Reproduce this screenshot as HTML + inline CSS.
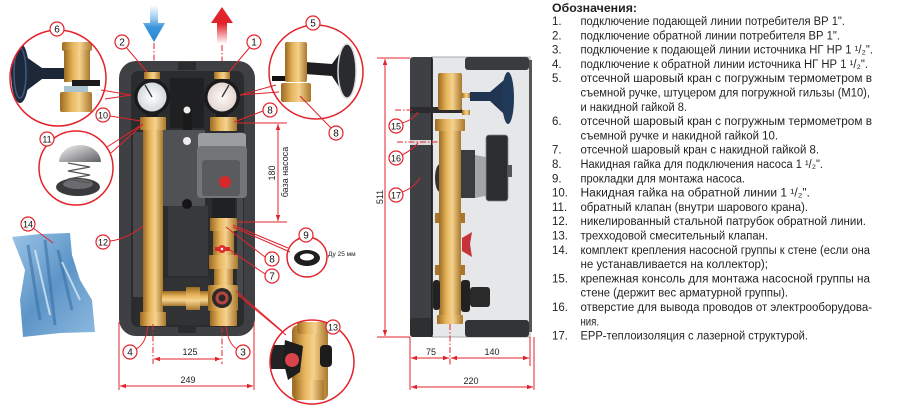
<!DOCTYPE html>
<html><head><meta charset="utf-8"><style>
html,body{margin:0;padding:0;background:#fff;}
svg{display:block;}
text{font-family:"Liberation Sans","DejaVu Sans",sans-serif;}
</style></head><body>
<svg width="898" height="411" viewBox="0 0 898 411" xmlns="http://www.w3.org/2000/svg">
<defs>
 <linearGradient id="brass" x1="0" x2="1" y1="0" y2="0">
  <stop offset="0" stop-color="#9c6a22"/><stop offset="0.35" stop-color="#e6b55c"/><stop offset="0.6" stop-color="#f5d28e"/><stop offset="1" stop-color="#a9772c"/>
 </linearGradient>
 <linearGradient id="brassH" x1="0" x2="0" y1="0" y2="1">
  <stop offset="0" stop-color="#9c6a22"/><stop offset="0.35" stop-color="#e6b55c"/><stop offset="0.6" stop-color="#f5d28e"/><stop offset="1" stop-color="#a9772c"/>
 </linearGradient>
 <linearGradient id="blueA" gradientUnits="userSpaceOnUse" x1="0" y1="5" x2="0" y2="42">
  <stop offset="0" stop-color="#ffffff"/><stop offset="0.35" stop-color="#9fcdf0"/><stop offset="0.6" stop-color="#3a95dc"/><stop offset="1" stop-color="#2a86d2"/>
 </linearGradient>
 <linearGradient id="redA" gradientUnits="userSpaceOnUse" x1="0" y1="7" x2="0" y2="44">
  <stop offset="0" stop-color="#e3232b"/><stop offset="0.45" stop-color="#e3232b"/><stop offset="1" stop-color="#ffffff"/>
 </linearGradient>
 <radialGradient id="face"><stop offset="0" stop-color="#ffffff"/><stop offset="1" stop-color="#d4d9dd"/></radialGradient>
 <radialGradient id="face2"><stop offset="0" stop-color="#fffaf7"/><stop offset="1" stop-color="#e3d6d2"/></radialGradient>
 <linearGradient id="dome" x1="0" x2="1" y1="0" y2="1"><stop offset="0" stop-color="#f4f4f4"/><stop offset="1" stop-color="#5e5f62"/></linearGradient>
 <linearGradient id="bag" x1="0" x2="1" y1="0" y2="1"><stop offset="0" stop-color="#9cc4e6"/><stop offset="0.5" stop-color="#5d95c8"/><stop offset="1" stop-color="#8db9de"/></linearGradient>
 <marker id="ar" viewBox="0 0 8 6" refX="8" refY="3" markerWidth="6" markerHeight="4.5" orient="auto-start-reverse" markerUnits="userSpaceOnUse">
  <path d="M0,0 L8,3 L0,6 Z" fill="#e3232b"/>
 </marker>
 <clipPath id="c6"><circle cx="58" cy="78" r="48"/></clipPath>
 <clipPath id="c5"><circle cx="316" cy="72" r="47"/></clipPath>
 <clipPath id="c13"><circle cx="312" cy="362" r="42"/></clipPath>
</defs>

<!-- arrows -->
<path d="M150,5 L158,5 L158,23 L165,23 L154,42 L143,23 L150,23 Z" fill="url(#blueA)"/>
<path d="M222,7 L233,23 L227,23 L227,44 L217,44 L217,23 L211,23 Z" fill="url(#redA)"/>
<g stroke="#e3232b" stroke-width="1" stroke-dasharray="6 2 1.5 2" fill="none">
 <line x1="154" y1="43" x2="154" y2="74"/>
 <line x1="222" y1="45" x2="222" y2="74"/>
</g>

<!-- LEFT UNIT -->
<rect x="119" y="61" width="136" height="275" rx="17" fill="#3f4043"/>
<rect x="131" y="71" width="113" height="256" rx="7" fill="#2b2c2e"/>
<rect x="178" y="62" width="18" height="8" fill="#2b2c2e"/>
<rect x="178" y="327" width="18" height="6" fill="#2b2c2e"/>
<rect x="133" y="132" width="10" height="165" fill="#47484b"/>
<rect x="237" y="132" width="6" height="165" fill="#47484b"/>
<rect x="163" y="130" width="42" height="76" fill="#505154"/>
<rect x="168" y="206" width="40" height="70" fill="#38393c"/>
<rect x="163" y="278" width="47" height="47" fill="#313234"/>
<rect x="170" y="78" width="34" height="50" fill="#1f2022"/>
<rect x="183" y="108" width="9" height="22" fill="#1a1a1b"/>
<circle cx="187" cy="110" r="3.5" fill="#eee"/>
<circle cx="187" cy="141" r="4" fill="#eee"/>
<circle cx="187" cy="204" r="5" fill="#151516"/>
<!-- gauges -->
<rect x="144" y="72" width="16" height="7" fill="url(#brass)"/>
<rect x="214" y="72" width="16" height="7" fill="url(#brass)"/>
<rect x="146" y="110" width="12" height="9" fill="#1e1e1f"/>
<rect x="216" y="110" width="12" height="9" fill="#1e1e1f"/>
<circle cx="152" cy="97" r="18" fill="#1b1b1d"/>
<circle cx="152" cy="97" r="14.5" fill="url(#face)"/>
<line x1="152" y1="97" x2="145" y2="85" stroke="#333" stroke-width="1.3"/>
<circle cx="222" cy="97" r="18" fill="#1b1b1d"/>
<circle cx="222" cy="97" r="14.5" fill="url(#face2)"/>
<line x1="222" y1="97" x2="229" y2="85" stroke="#333" stroke-width="1.3"/>
<!-- left pipe -->
<rect x="140" y="117" width="26" height="13" rx="1" fill="url(#brass)"/>
<rect x="143" y="130" width="20" height="183" fill="url(#brass)"/>
<rect x="140" y="312" width="26" height="14" rx="1" fill="url(#brass)"/>
<!-- right column -->
<rect x="210" y="117" width="27" height="14" rx="1" fill="url(#brass)"/>
<rect x="198" y="133" width="48" height="17" rx="3" fill="#9b9d9f"/>
<rect x="197" y="146" width="50" height="52" rx="4" fill="#737577"/>
<rect x="202" y="160" width="38" height="36" rx="3" fill="#5a5b5e"/>
<circle cx="225" cy="182" r="6" fill="#d42a2a"/>
<rect x="212" y="198" width="23" height="20" fill="#202122"/>
<rect x="210" y="218" width="27" height="13" rx="1" fill="url(#brass)"/>
<rect x="213" y="231" width="21" height="26" fill="url(#brass)"/>
<rect x="215" y="247" width="15" height="4" fill="#d42a2a"/>
<circle cx="222" cy="249" r="4" fill="#e03030"/>
<circle cx="222" cy="249" r="1.2" fill="#fff"/>
<rect x="209" y="255" width="29" height="14" rx="1" fill="url(#brass)"/>
<rect x="214" y="269" width="19" height="18" fill="url(#brass)"/>
<rect x="162" y="291" width="46" height="15" fill="url(#brassH)"/>
<rect x="186" y="287" width="14" height="23" rx="1" fill="url(#brassH)"/>
<rect x="208" y="285" width="30" height="26" rx="2" fill="url(#brass)"/>
<circle cx="222" cy="298" r="10" fill="#2a2a2a"/>
<circle cx="222" cy="298" r="6.5" fill="#b8463f"/>
<circle cx="222" cy="298" r="3.5" fill="#2a2a2a"/>
<rect x="210" y="311" width="27" height="15" rx="1" fill="url(#brass)"/>

<!-- dimension 180 -->
<g stroke="#e3232b" stroke-width="1" fill="none">
 <line x1="237" y1="123" x2="287" y2="123"/>
 <line x1="237" y1="222" x2="287" y2="222"/>
 <line x1="278" y1="124" x2="278" y2="221" marker-start="url(#ar)" marker-end="url(#ar)"/>
</g>
<text transform="translate(275,173) rotate(-90)" text-anchor="middle" font-size="9" fill="#222">180</text>
<text transform="translate(288,172) rotate(-90)" text-anchor="middle" font-size="9" fill="#222">база насоса</text>

<!-- bottom dims left -->
<g stroke="#e3232b" stroke-width="1" fill="none">
 <line x1="119" y1="322" x2="119" y2="390"/>
 <line x1="254" y1="322" x2="254" y2="390"/>
 <line x1="153" y1="324" x2="153" y2="364" stroke-dasharray="6 2 1.5 2"/>
 <line x1="222" y1="327" x2="222" y2="364" stroke-dasharray="6 2 1.5 2"/>
 <line x1="154" y1="359" x2="221" y2="359" marker-start="url(#ar)" marker-end="url(#ar)"/>
 <line x1="120" y1="386" x2="253" y2="386" marker-start="url(#ar)" marker-end="url(#ar)"/>
</g>
<text x="190" y="355" text-anchor="middle" font-size="9" fill="#222">125</text>
<text x="188" y="383" text-anchor="middle" font-size="9" fill="#222">249</text>

<!-- bag 14 -->
<path d="M12,237 L40,234 L70,233 L72,255 L80,280 L92,300 L95,332 L60,333 L23,337 L20,300 L25,270 Z" fill="url(#bag)"/>
<path d="M28,245 L40,320 M45,240 L55,325 M58,250 L72,310" stroke="#3b6fa3" stroke-width="3" fill="none" opacity="0.6"/>
<path d="M35,250 L50,315 M62,262 L80,300" stroke="#e8f2fa" stroke-width="2" fill="none" opacity="0.7"/>

<!-- circle 6 -->
<circle cx="58" cy="78" r="48" fill="#fff"/>
<g clip-path="url(#c6)">
 <path d="M22,54 L42,68 L66,68 L66,79 L42,79 L22,94 Z" fill="#1c2838"/>
 <ellipse cx="20" cy="73" rx="9" ry="30" fill="#1d2a3e"/>
 <ellipse cx="20" cy="73" rx="6" ry="25" fill="none" stroke="#3f5a7d" stroke-width="1.5"/>
 <rect x="62" y="42" width="30" height="9" rx="2" fill="url(#brass)"/>
 <rect x="64" y="50" width="26" height="32" fill="url(#brass)"/>
 <rect x="72" y="80" width="28" height="6" fill="#1a1a1a"/>
 <rect x="64" y="86" width="24" height="6" fill="#a9c3d0"/>
 <rect x="60" y="92" width="32" height="20" rx="2" fill="url(#brass)"/>
</g>
<circle cx="58" cy="78" r="48" fill="none" stroke="#e3232b" stroke-width="1.5"/>
<g stroke="#e3232b" stroke-width="1" fill="none">
 <line x1="101" y1="90" x2="131" y2="95"/>
 <line x1="105" y1="99" x2="131" y2="95"/>
</g>

<!-- circle 5 -->
<circle cx="316" cy="72" r="47" fill="#fff"/>
<g clip-path="url(#c5)">
 <rect x="272" y="76" width="18" height="5" fill="#111"/>
 <path d="M305,62 L332,64 L345,46 L345,96 L332,76 L305,74 Z" fill="#1f1f22"/>
 <ellipse cx="347" cy="71" rx="9" ry="27" fill="#2a2b2e" stroke="#dcdcdc" stroke-width="1.5"/>
 <rect x="285" y="42" width="22" height="40" rx="2" fill="url(#brass)"/>
 <rect x="281" y="83" width="30" height="19" rx="2" fill="url(#brass)"/>
</g>
<circle cx="316" cy="72" r="47" fill="none" stroke="#e3232b" stroke-width="1.5"/>
<g stroke="#e3232b" stroke-width="1" fill="none">
 <line x1="276" y1="85" x2="240" y2="95"/>
 <line x1="279" y1="92" x2="240" y2="95"/>
 <line x1="300" y1="96" x2="331" y2="128"/>
</g>

<!-- circle 11 -->
<circle cx="76" cy="168" r="37" fill="#fff" stroke="#e3232b" stroke-width="1.5"/>
<ellipse cx="78" cy="187" rx="22" ry="9" fill="#3a3a3c"/>
<ellipse cx="78" cy="184" rx="15" ry="5" fill="#6a6b6e"/>
<path d="M68,163 L90,167 L68,171 L90,175 L68,179 L90,183" stroke="#555" stroke-width="1.3" fill="none"/>
<path d="M59,162 A21,17 0 0 1 101,162 Z" fill="url(#dome)"/>
<g stroke="#e3232b" stroke-width="1" fill="none">
 <line x1="107" y1="147" x2="143" y2="124"/>
 <line x1="111" y1="153" x2="143" y2="124"/>
</g>

<!-- circle 9 -->
<circle cx="307" cy="257" r="20" fill="#fff" stroke="#e3232b" stroke-width="1.5"/>
<ellipse cx="307" cy="258" rx="13" ry="8" fill="#1e1e1e"/>
<ellipse cx="307" cy="257" rx="7" ry="3.5" fill="#fff"/>
<text x="328" y="256" font-size="6.5" fill="#222">Ду 25 мм</text>
<g stroke="#e3232b" stroke-width="1" fill="none">
 <line x1="233" y1="225" x2="288" y2="248"/>
 <line x1="233" y1="227" x2="290" y2="252"/>
</g>

<!-- circle 13 -->
<circle cx="312" cy="362" r="42" fill="#fff"/>
<g clip-path="url(#c13)">
 <rect x="266" y="345" width="26" height="24" fill="#232323"/>
 <rect x="292" y="325" width="36" height="75" rx="6" fill="url(#brass)"/>
 <rect x="297" y="322" width="30" height="12" rx="3" fill="url(#brass)"/>
 <rect x="320" y="345" width="12" height="22" rx="4" fill="#1c1c1c"/>
 <path d="M285,340 L303,346 L300,372 L288,380 L283,360 Z" fill="#1d1d1d"/>
 <circle cx="292" cy="360" r="7" fill="#d8444a"/>
 <rect x="294" y="380" width="30" height="20" fill="url(#brass)"/>
</g>
<circle cx="312" cy="362" r="42" fill="none" stroke="#e3232b" stroke-width="1.5"/>
<g stroke="#e3232b" stroke-width="1" fill="none">
 <line x1="236" y1="291" x2="282" y2="331"/>
 <line x1="238" y1="295" x2="286" y2="335"/>
</g>

<!-- RIGHT SIDE VIEW -->
<rect x="432" y="57" width="98" height="280" fill="#e6e7e9" stroke="#9a9a9a" stroke-width="0.8"/>
<rect x="410" y="57" width="23" height="280" rx="3" fill="#3f4043"/>
<rect x="410" y="318" width="23" height="19" rx="3" fill="#2e2f31"/>
<rect x="410" y="140" width="23" height="5" fill="#d9d9d9"/>
<rect x="431" y="57" width="1.5" height="280" fill="#222"/>
<rect x="465" y="57" width="64" height="13" rx="3" fill="#3a3b3d"/>
<rect x="465" y="320" width="64" height="17" rx="3" fill="#333436"/>
<rect x="529" y="60" width="3" height="272" fill="#555"/>
<rect x="410" y="107" width="52" height="6" fill="#2c2c2e"/>
<ellipse cx="440" cy="178" rx="5" ry="14" fill="#333"/>
<rect x="438" y="73" width="24" height="37" rx="2" fill="url(#brass)"/>
<rect x="462" y="93" width="8" height="5" fill="url(#brass)"/>
<rect x="462" y="110" width="8" height="5" fill="url(#brass)"/>
<path d="M470,92 L490,92 L504,80 L504,114 L490,101 L470,101 Z" fill="#1f3552"/>
<ellipse cx="508" cy="98" rx="6" ry="26" fill="#223a5a"/>
<rect x="435" y="119" width="30" height="12" rx="1" fill="url(#brass)"/>
<rect x="439" y="131" width="22" height="187" fill="url(#brass)"/>
<rect x="437" y="315" width="26" height="9" rx="1" fill="url(#brass)"/>
<rect x="461" y="150" width="14" height="48" fill="#3b3c3e"/>
<path d="M475,155 L490,158 L490,195 L475,198 Z" fill="#a3a5a7"/>
<rect x="486" y="135" width="22" height="66" rx="3" fill="#2c2d2f" stroke="#888" stroke-width="0.8"/>
<rect x="508" y="165" width="4" height="12" fill="#555"/>
<rect x="435" y="213" width="4" height="10" fill="#a9772c"/>
<rect x="461" y="213" width="4" height="10" fill="#a9772c"/>
<rect x="435" y="265" width="4" height="10" fill="#a9772c"/>
<rect x="461" y="265" width="4" height="10" fill="#a9772c"/>
<path d="M462,238 L472,232 L470,244 L472,257 L462,251 Z" fill="#c8323a"/>
<rect x="433" y="280" width="7" height="30" rx="3" fill="#222"/>
<rect x="461" y="280" width="9" height="32" rx="3" fill="#222"/>
<rect x="470" y="287" width="20" height="20" rx="3" fill="#2a2a2a"/>

<!-- right dims -->
<g stroke="#e3232b" stroke-width="1" fill="none">
 <line x1="377" y1="58" x2="410" y2="58"/>
 <line x1="377" y1="337" x2="410" y2="337"/>
 <line x1="385" y1="59" x2="385" y2="336" marker-start="url(#ar)" marker-end="url(#ar)"/>
 <line x1="395" y1="110" x2="412" y2="110" stroke-dasharray="6 2 1.5 2"/>
 <line x1="397" y1="142" x2="438" y2="142" stroke-dasharray="6 2 1.5 2"/>
 <line x1="410" y1="337" x2="410" y2="390"/>
 <line x1="450" y1="324" x2="450" y2="366" stroke-dasharray="6 2 1.5 2"/>
 <line x1="530" y1="337" x2="530" y2="366"/>
 <line x1="534" y1="337" x2="534" y2="390"/>
 <line x1="411" y1="358" x2="449" y2="358" marker-start="url(#ar)" marker-end="url(#ar)"/>
 <line x1="451" y1="358" x2="529" y2="358" marker-start="url(#ar)" marker-end="url(#ar)"/>
 <line x1="411" y1="387" x2="533" y2="387" marker-start="url(#ar)" marker-end="url(#ar)"/>
</g>
<text transform="translate(383,197) rotate(-90)" text-anchor="middle" font-size="9" fill="#222">511</text>
<text x="431" y="355" text-anchor="middle" font-size="9" fill="#222">75</text>
<text x="492" y="355" text-anchor="middle" font-size="9" fill="#222">140</text>
<text x="471" y="384" text-anchor="middle" font-size="9" fill="#222">220</text>

<!-- leader lines -->
<g stroke="#e3232b" stroke-width="1" fill="none">
 <line x1="126" y1="47" x2="147" y2="72"/>
 <line x1="250" y1="47" x2="229" y2="72"/>
 <line x1="110" y1="116" x2="141" y2="121"/>
 <line x1="263" y1="111" x2="234" y2="122"/>
 <path d="M110,241 Q127,239 143,226"/>
 <line x1="33" y1="228" x2="53" y2="243"/>
 <line x1="265" y1="257" x2="226" y2="227"/>
 <line x1="265" y1="274" x2="230" y2="250"/>
 <path d="M136,349 Q146,344 148,326"/>
 <path d="M237,349 Q228,344 226,326"/>
 <path d="M402,123 Q413,120 418,112"/>
 <path d="M402,155 Q412,150 418,143"/>
 <path d="M402,192 Q414,188 420,178"/>
</g>

<!-- callout circles -->
<g font-size="10" text-anchor="middle" fill="#111">
 <g stroke="#e3232b" stroke-width="1.2" fill="#fff">
  <circle cx="122" cy="42" r="7"/><circle cx="254" cy="42" r="7"/>
  <circle cx="57" cy="29" r="7"/><circle cx="313" cy="23" r="7"/>
  <circle cx="103" cy="115" r="7"/><circle cx="270" cy="110" r="7"/>
  <circle cx="336" cy="133" r="7"/><circle cx="47" cy="139" r="7"/>
  <circle cx="103" cy="242" r="7"/><circle cx="28" cy="224" r="7"/>
  <circle cx="306" cy="235" r="7"/><circle cx="272" cy="259" r="7"/>
  <circle cx="272" cy="276" r="7"/><circle cx="130" cy="352" r="7"/>
  <circle cx="243" cy="352" r="7"/><circle cx="333" cy="327" r="7"/>
  <circle cx="396" cy="126" r="7"/><circle cx="396" cy="158" r="7"/>
  <circle cx="396" cy="195" r="7"/>
 </g>
 <text x="122" y="45.5">2</text><text x="254" y="45.5">1</text>
 <text x="57" y="32.5">6</text><text x="313" y="26.5">5</text>
 <text x="103" y="118.5" font-size="9">10</text><text x="270" y="113.5">8</text>
 <text x="336" y="136.5">8</text><text x="47" y="142.5" font-size="9">11</text>
 <text x="103" y="245.5" font-size="9">12</text><text x="28" y="227.5" font-size="9">14</text>
 <text x="306" y="238.5">9</text><text x="272" y="262.5">8</text>
 <text x="272" y="279.5">7</text><text x="130" y="355.5">4</text>
 <text x="243" y="355.5">3</text><text x="333" y="330.5" font-size="9">13</text>
 <text x="396" y="129.5" font-size="9">15</text><text x="396" y="161.5" font-size="9">16</text>
 <text x="396" y="198.5" font-size="9">17</text>
</g>

<!-- LEGEND -->
<g font-size="11.5" fill="#231f20">
 <text x="552" y="12" font-weight="bold" textLength="85" lengthAdjust="spacingAndGlyphs">Обозначения:</text>
 <text x="552" y="25">1.</text><text x="580.5" y="25" textLength="264.5" lengthAdjust="spacingAndGlyphs">подключение подающей линии потребителя ВР 1".</text>
 <text x="552" y="39.3">2.</text><text x="580.5" y="39.3" textLength="259.5" lengthAdjust="spacingAndGlyphs">подключение обратной линии потребителя ВР 1".</text>
 <text x="552" y="53.6">3.</text><text x="580.5" y="53.6" textLength="292.5" lengthAdjust="spacingAndGlyphs">подключение к подающей линии источника НГ НР 1 ¹/₂".</text>
 <text x="552" y="67.9">4.</text><text x="580.5" y="67.9" textLength="287.5" lengthAdjust="spacingAndGlyphs">подключение к обратной линии источника НГ НР 1 ¹/₂".</text>
 <text x="552" y="82.2">5.</text><text x="580.5" y="82.2" textLength="291.5" lengthAdjust="spacingAndGlyphs">отсечной шаровый кран с погружным термометром в</text>
 <text x="580.5" y="96.5" textLength="289.5" lengthAdjust="spacingAndGlyphs">съемной ручке, штуцером для погружной гильзы (М10),</text>
 <text x="580.5" y="110.8" textLength="106.5" lengthAdjust="spacingAndGlyphs">и накидной гайкой 8.</text>
 <text x="552" y="125.1">6.</text><text x="580.5" y="125.1" textLength="291.5" lengthAdjust="spacingAndGlyphs">отсечной шаровый кран с погружным термометром в</text>
 <text x="580.5" y="139.4" textLength="197.5" lengthAdjust="spacingAndGlyphs">съемной ручке и накидной гайкой 10.</text>
 <text x="552" y="153.7">7.</text><text x="580.5" y="153.7" textLength="238.5" lengthAdjust="spacingAndGlyphs">отсечной шаровый кран с накидной гайкой 8.</text>
 <text x="552" y="168">8.</text><text x="580.5" y="168" textLength="242.5" lengthAdjust="spacingAndGlyphs">Накидная гайка для подключения насоса 1 ¹/₂".</text>
 <text x="552" y="182.3">9.</text><text x="580.5" y="182.3" textLength="164.5" lengthAdjust="spacingAndGlyphs">прокладки для монтажа насоса.</text>
 <text x="552" y="196.6">10.</text><text x="580.5" y="196.6" textLength="229.5" lengthAdjust="spacingAndGlyphs">Накидная гайка на обратной линии 1 ¹/₂".</text>
 <text x="552" y="210.9">11.</text><text x="580.5" y="210.9" textLength="227.5" lengthAdjust="spacingAndGlyphs">обратный клапан (внутри шарового крана).</text>
 <text x="552" y="225.2">12.</text><text x="580.5" y="225.2" textLength="285.5" lengthAdjust="spacingAndGlyphs">никелированный  стальной патрубок обратной линии.</text>
 <text x="552" y="239.5">13.</text><text x="580.5" y="239.5" textLength="187.5" lengthAdjust="spacingAndGlyphs">трехходовой смесительный клапан.</text>
 <text x="552" y="253.8">14.</text><text x="580.5" y="253.8" textLength="289.5" lengthAdjust="spacingAndGlyphs">комплект крепления насосной группы к стене (если она</text>
 <text x="580.5" y="268.1" textLength="187.5" lengthAdjust="spacingAndGlyphs">не устанавливается на коллектор);</text>
 <text x="552" y="282.4">15.</text><text x="580.5" y="282.4" textLength="289.5" lengthAdjust="spacingAndGlyphs">крепежная консоль для монтажа насосной группы на</text>
 <text x="580.5" y="296.7" textLength="207.5" lengthAdjust="spacingAndGlyphs">стене (держит вес арматурной группы).</text>
 <text x="552" y="311">16.</text><text x="580.5" y="311" textLength="291.5" lengthAdjust="spacingAndGlyphs">отверстие для вывода проводов от электрооборудова-</text>
 <text x="580.5" y="325.3" textLength="18.5" lengthAdjust="spacingAndGlyphs">ния.</text>
 <text x="552" y="339.6">17.</text><text x="580.5" y="339.6" textLength="227.5" lengthAdjust="spacingAndGlyphs">EPP-теплоизоляция с лазерной структурой.</text>
</g>
</svg>
</body></html>
